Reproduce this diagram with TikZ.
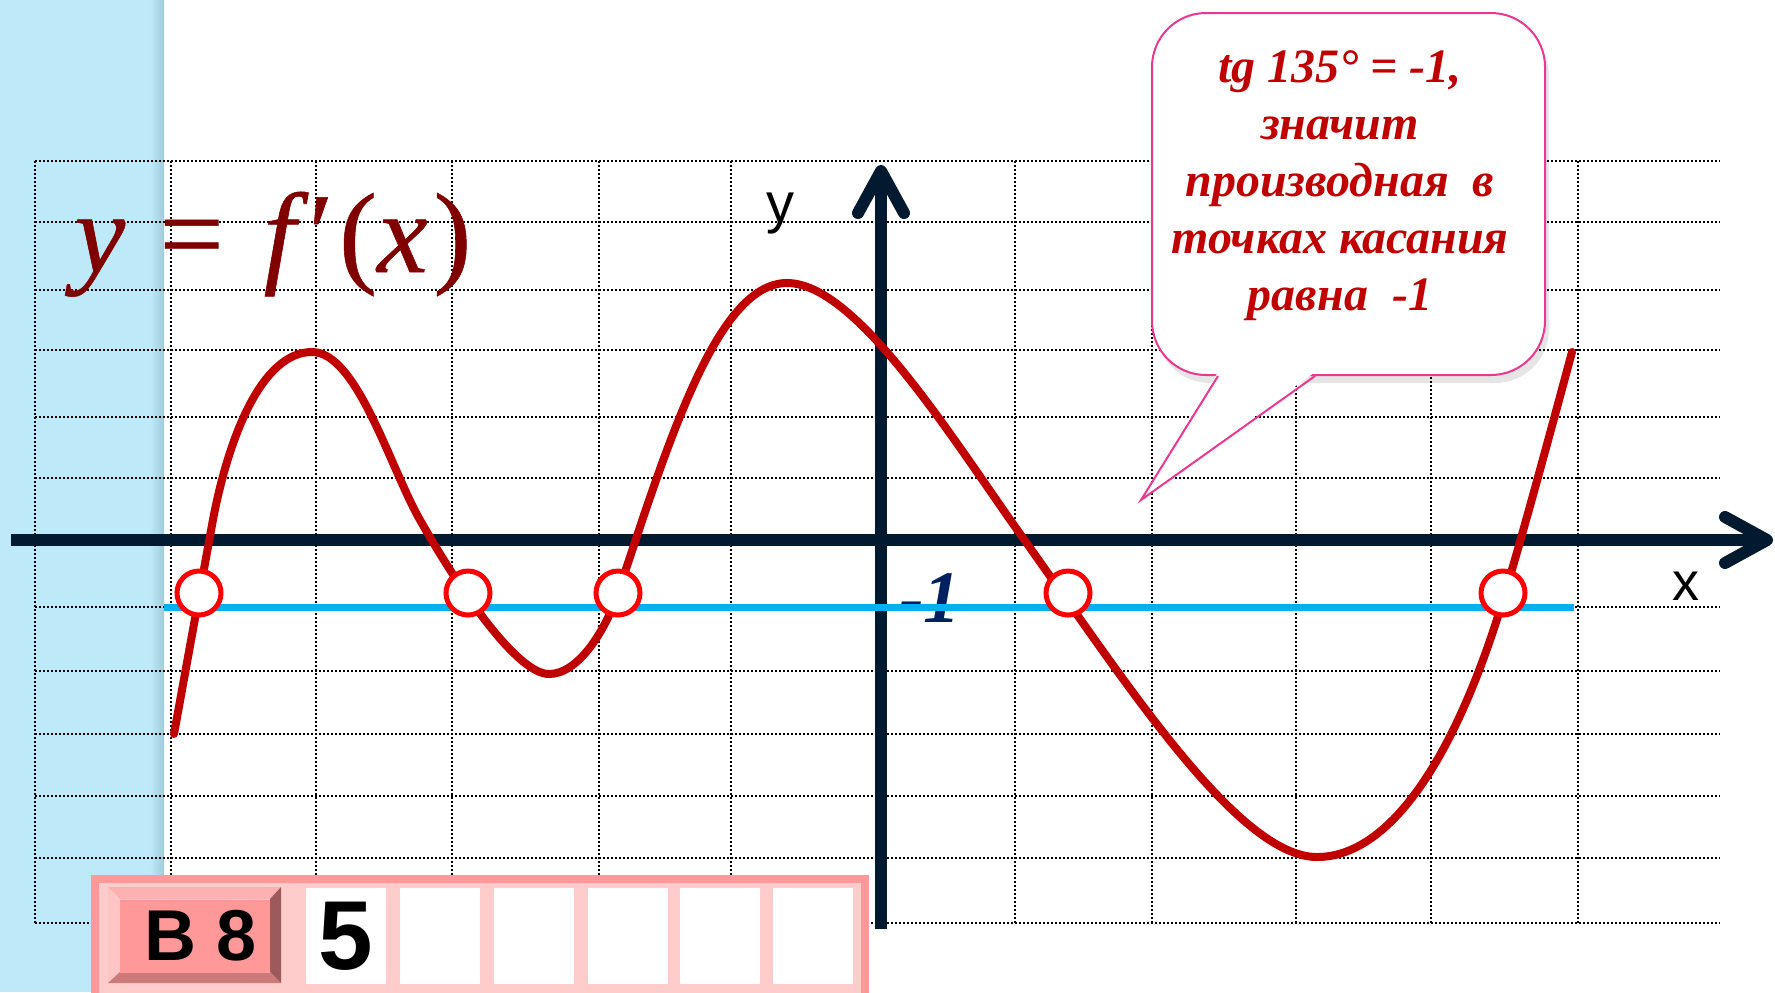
\documentclass[tikz,border=0pt]{standalone}
\usepackage{fontspec}
\setmainfont{Liberation Serif}
\setsansfont{Liberation Sans}
\newfontfamily\titlefont[FakeBold=0.5]{Liberation Serif}
\usepackage{tikz}
\usetikzlibrary{arrows.meta, positioning, calc}
\definecolor{curvered}{HTML}{C00000}
\definecolor{titlered}{HTML}{800000}
\definecolor{axisnavy}{HTML}{011A30}
\definecolor{levelblue}{HTML}{00B0F0}
\definecolor{labelnavy}{HTML}{002060}
\definecolor{panelblue}{HTML}{BEE9F8}
\definecolor{panelshade}{HTML}{9FCBDC}
\definecolor{notepink}{HTML}{E8388F}
\definecolor{framesalmon}{HTML}{FF9999}
\definecolor{framepink}{HTML}{FFCCCC}
\definecolor{btnpink}{HTML}{FF9999}
\definecolor{bevtop}{HTML}{FFB0B0}
\definecolor{bevleft}{HTML}{FFC4C4}
\definecolor{bevright}{HTML}{9C5A5A}
\definecolor{bevbottom}{HTML}{CC7A7A}

\begin{document}
\begin{tikzpicture}[x=0.5pt, y=-0.5pt,
  gridline/.style={black, line width=0.9pt, dash pattern=on 0.9pt off 1.1pt},
  axisline/.style={axisnavy, line width=6pt, -{Straight Barb[length=21pt, width=23pt, round]}},
  levelline/.style={levelblue, line width=3.5pt},
  fprime/.style={curvered, line width=4pt, line cap=round, line join=round},
  meet/.style={circle, draw=red, line width=2.5pt, fill=white, minimum size=22pt, inner sep=0pt},
  notebox/.style={draw=notepink, line width=1pt, fill=white, rounded corners=27pt,
                  minimum width=196.5pt, minimum height=181pt},
  cell/.style={fill=white, minimum width=40pt, minimum height=48pt, inner sep=0pt},
  btnface/.style={fill=btnpink, minimum width=75pt, minimum height=36.5pt, inner sep=0pt}
]
\useasboundingbox (0,0) rectangle (1775,992);

% left panel
\fill[panelblue] (0,0) rectangle (164,992);
\shade[left color=panelblue, right color=panelshade] (150,0) rectangle (164,992);

% squared paper
\foreach \gx in {35,171,316,452,599,731,1015,1152,1296,1431,1578}
  \draw[gridline] (\gx,161) -- (\gx,923);
\foreach \gy in {161,222,290,350,417,478,607,671,734,796,858,923}
  \draw[gridline] (35,\gy) -- (1720,\gy);

% callout
\fill[black, opacity=0.10, rounded corners=27pt] (1156,22) rectangle (1549,383);
\node[notebox] (note) at (1348.5,194) {};
\coordinate (tailL) at ($(note.south)+(-130.5,0)$);
\coordinate (tailR) at ($(note.south)+(-33.5,0)$);
\coordinate (tailtip) at (1141,500);
\fill[white] ($(tailL)+(0,-4)$) -- (tailtip) -- ($(tailR)+(0,-4)$) -- cycle;
\draw[notepink, line width=1pt, line join=miter] (tailL) -- (tailtip) -- (tailR);
\node[align=center, text=curvered, font=\bfseries\itshape\fontsize{24}{28.5}\selectfont]
  (notetext) at (1340,186)
  {tg 135° = -1,\\значит\\производная\ \ в\\точках касания\\равна\ \ -1};

% title
\node[text=titlered, font=\titlefont\fontsize{57}{62}\selectfont, anchor=base] (title) at (273,272)
  {\textit{y}\hspace{0.05em} = \hspace{0.1em}\textit{f}′\hspace{0.05em}(\textit{x}\hspace{0.05em})};

% axes
\coordinate (xstart) at (11,540);
\coordinate (xend) at (1773,540);
\coordinate (ystart) at (881,929);
\coordinate (yend) at (881,165);
\draw[axisline] (xstart) -- (xend);
\draw[axisline] (ystart) -- (yend);

\node[text=labelnavy, font=\bfseries\itshape\fontsize{37}{40}\selectfont, anchor=base] (minusone) at (930,622) {-1};

% level y = -1
\coordinate (lvlL) at (164,607);
\coordinate (lvlR) at (1574,607);
\draw[levelline] (lvlL) -- (lvlR);

% y = f'(x)
\draw[fprime] (174,734) -- (212,525)
  .. controls (228,437) and (262,352) .. (312,352)
  .. controls (357,352) and (390,467.5) .. (420,520)
  .. controls (465,599) and (519,674) .. (549,674)
  .. controls (579,674) and (606,629) .. (618,593)
  .. controls (668,443) and (717,283) .. (787,283)
  .. controls (857,283) and (953,440) .. (1023,538)
  .. controls (1123,678) and (1237,857) .. (1317,857)
  .. controls (1387,857) and (1453,765) .. (1503,600)
  .. controls (1523,534) and (1557,407.5) .. (1572,352);

% tangency points
\node[meet] (p1) at (199,593) {};
\node[meet] (p2) at (468,593) {};
\node[meet] (p3) at (618,593) {};
\node[meet] (p4) at (1068,593) {};
\node[meet] (p5) at (1503,593) {};

\node[font=\sffamily\fontsize{27}{30}\selectfont, anchor=base] (xlabel) at (1686,600) {x};
\node[font=\sffamily\fontsize{28}{30}\selectfont, anchor=base] (ylabel) at (780,222) {y};

% answer strip
\draw[framesalmon, fill=framepink, line width=4pt] (95,879) rectangle (865,1000);
\fill[bevtop] (108,887) -- (281,887) -- (270,899) -- (120,899) -- cycle;
\fill[bevleft] (108,887) -- (120,899) -- (120,972) -- (108,983) -- cycle;
\fill[bevright] (281,887) -- (281,983) -- (270,972) -- (270,899) -- cycle;
\fill[bevbottom] (108,983) -- (281,983) -- (270,972) -- (120,972) -- cycle;
\node[btnface, font=\sffamily\bfseries\fontsize{36}{38}\selectfont] (btn) at (195,936) {};
\node[font=\sffamily\bfseries\fontsize{36}{38}\selectfont] (btntext) at (201,936) {В 8};
\node[cell, font=\sffamily\bfseries\fontsize{49}{52}\selectfont] (cell0) at (346,936) {5};
\foreach \cx [count=\i] in {440,534,628,720,813}
  \node[cell] (cell\i) at (\cx,936) {};
\end{tikzpicture}
\end{document}
